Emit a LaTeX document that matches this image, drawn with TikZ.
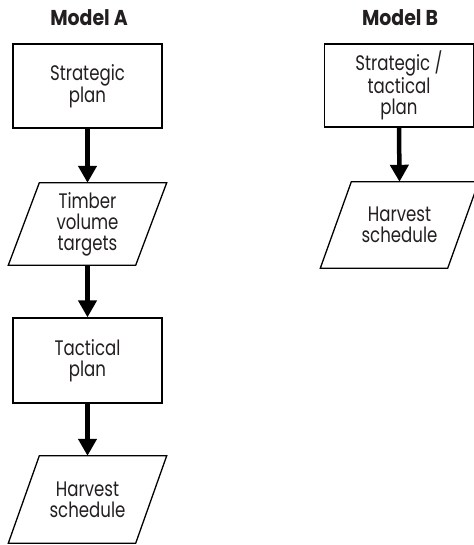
\documentclass[tikz,border=0pt]{standalone}
\usepackage{fontspec}
\setmainfont{Poppins}[FakeStretch=0.79]
\newfontfamily\ttlfont{Poppins}[FakeStretch=0.88]
\usetikzlibrary{arrows.meta}
\definecolor{ink}{HTML}{231F20}
\tikzset{
  box/.style={draw=black, line width=1.3pt, rectangle, minimum width=149pt, minimum height=84pt, inner sep=0pt, align=center, text=ink, font=\fontsize{21}{21}\selectfont},
  para/.style={rectangle, minimum width=127pt, minimum height=84pt, inner sep=0pt, align=center, text=ink, font=\fontsize{21}{21}\selectfont},
  ttl/.style={text=ink, font=\ttlfont\bfseries\fontsize{21.5}{22}\selectfont},
  flow/.style={line width=4.5pt, -{Triangle[width=18pt,length=17pt]}, shorten >=0pt}
}
\newcommand{\paraoutline}[1]{%
  \draw[line width=1.3pt, line join=miter] ([xshift=15.5pt]#1.north west) -- ([xshift=15.5pt]#1.north east) -- ([xshift=-15.5pt]#1.south east) -- ([xshift=-15.5pt]#1.south west) -- cycle;}
\begin{document}
\begin{tikzpicture}[x=1pt,y=-1pt]
\useasboundingbox (0,0) rectangle (473,545);
% Model A
\node[ttl] (ta) at (89,18) {Model A};
\node[box] (a1) at (87.5,86) {Strategic\\plan};
\node[para, minimum height=82pt] (a2) at (87.5,224) {Timber\\volume\\targets};
\paraoutline{a2}
\node[box, minimum height=85pt] (a3) at (87.5,360.5) {Tactical\\plan};
\node[para, minimum height=87pt] (a4) at (87.5,499.5) {Harvest\\schedule};
\paraoutline{a4}
\draw[flow] (a1.south) -- (a2.north);
\draw[flow] (a2.south) -- (a3.north);
\draw[flow] (a3.south) -- (a4.north);
% Model B
\node[ttl] (tb) at (400,18) {Model B};
\node[box, minimum height=83pt] (b1) at (399,85.5) {Strategic /\\tactical\\plan};
\node[para, minimum height=86pt] (b2) at (399.5,225) {Harvest\\schedule};
\paraoutline{b2}
\draw[flow] (b1.south) -- (b2.north);
\end{tikzpicture}
\end{document}
